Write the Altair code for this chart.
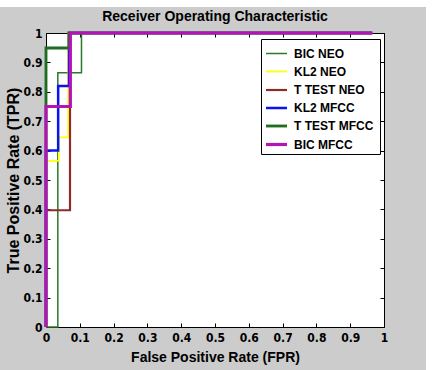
import altair as alt
import pandas as pd

# ---- data ----
series_names = ["BIC NEO", "KL2 NEO", "T TEST NEO", "KL2 MFCC", "T TEST  MFCC", "BIC MFCC"]
series_colors = ["#2a7a2a", "#ffff10", "#8e2a2a", "#0a14f0", "#1f6e1f", "#b414b4"]
series_widths = [1.5, 3.2, 1.5, 3.2, 3.2, 3.2]

bic_neo_x = [0, 0.035, 0.035, 0.105, 0.105, 0.965]
bic_neo_y = [0, 0, 0.865, 0.865, 1, 1]
kl2_neo_x = [0, 0, 0.038, 0.038, 0.066, 0.066, 0.965]
kl2_neo_y = [0, 0.565, 0.565, 0.645, 0.645, 1, 1]
ttest_neo_x = [0, 0, 0.071, 0.071, 0.965]
ttest_neo_y = [0, 0.397, 0.397, 1, 1]
kl2_mfcc_x = [0, 0, 0.036, 0.036, 0.068, 0.068, 0.965]
kl2_mfcc_y = [0, 0.6, 0.6, 0.82, 0.82, 1, 1]
ttest_mfcc_x = [0, 0, 0.068, 0.068, 0.965]
ttest_mfcc_y = [0, 0.949, 0.949, 1, 1]
bic_mfcc_x = [0, 0, 0.072, 0.072, 0.965]
bic_mfcc_y = [0, 0.75, 0.75, 1, 1]

tick_values = [0, 0.1, 0.2, 0.3, 0.4, 0.5, 0.6, 0.7, 0.8, 0.9, 1]

all_x = [bic_neo_x, kl2_neo_x, ttest_neo_x, kl2_mfcc_x, ttest_mfcc_x, bic_mfcc_x]
all_y = [bic_neo_y, kl2_neo_y, ttest_neo_y, kl2_mfcc_y, ttest_mfcc_y, bic_mfcc_y]

rows = []
for name, xs, ys in zip(series_names, all_x, all_y):
    for i, (xv, yv) in enumerate(zip(xs, ys)):
        rows.append({"series": name, "i": i, "x": xv, "y": yv})
df = pd.DataFrame(rows)

W, H = 338, 294
LABEL_FONT = "Liberation Sans Narrow, DejaVu Sans Condensed, Liberation Sans"
FONT = "Liberation Sans"

xscale = alt.Scale(domain=[0, 1], nice=False, zero=False)
yscale = alt.Scale(domain=[0, 1], nice=False, zero=False)
cscale = alt.Scale(domain=series_names, range=series_colors)
wscale = alt.Scale(domain=series_names, range=series_widths)

legend = alt.Legend(
    title=None, orient="none", legendX=215, legendY=6,
    fillColor="white", strokeColor="black", padding=3,
    labelFont=FONT, labelFontSize=12, labelFontWeight="bold", labelColor="black",
    symbolType="stroke", symbolSize=441, rowPadding=-1.5, labelOffset=5,
)

base = alt.Chart(df)

x_label_axis = alt.Axis(
    orient="bottom", values=tick_values, format="g", ticks=False, grid=False,
    domain=False, labelFont=LABEL_FONT, labelFontSize=12, labelFontWeight="bold",
    labelColor="black", labelPadding=5, title="False Positive Rate (FPR)",
    titleFont=FONT, titleFontSize=14, titleFontWeight="bold", titleColor="black",
    titlePadding=7, labelFlush=False,
)
y_label_axis = alt.Axis(
    orient="left", values=tick_values, format="g", ticks=False, grid=False,
    domain=False, labelFont=LABEL_FONT, labelFontSize=12, labelFontWeight="bold",
    labelColor="black", labelPadding=4, title="True Positive Rate (TPR)",
    titleFont=FONT, titleFontSize=16, titleFontWeight="bold", titleColor="black",
    titlePadding=1, labelFlush=False,
)

layers = []
for k, name in enumerate(series_names):
    layers.append(
        base.transform_filter(alt.datum.series == name)
        .mark_line(strokeCap="butt", strokeJoin="miter")
        .encode(
            x=alt.X("x:Q", scale=xscale, axis=x_label_axis if k == 0 else None),
            y=alt.Y("y:Q", scale=yscale, axis=y_label_axis if k == 0 else None),
            color=alt.Color("series:N", scale=cscale, legend=legend, sort=series_names),
            strokeWidth=alt.StrokeWidth("series:N", scale=wscale, legend=legend, sort=series_names),
            order="i:Q",
        )
    )


def tick_axis(orient):
    return alt.Axis(
        orient=orient, values=tick_values, offset=-4, tickSize=4, tickColor="black",
        labels=False, domain=False, grid=False, title=None,
    )


ticks_bl = base.mark_point(opacity=0).encode(
    x=alt.X("x:Q", scale=xscale, axis=tick_axis("bottom")),
    y=alt.Y("y:Q", scale=yscale, axis=tick_axis("left")),
)
ticks_tr = base.mark_point(opacity=0).encode(
    x=alt.X("x:Q", scale=xscale, axis=tick_axis("top")),
    y=alt.Y("y:Q", scale=yscale, axis=tick_axis("right")),
)

top_strip = alt.Chart(pd.DataFrame({"a": [0]})).mark_rect(color="white").encode(
    x=alt.value(-46), x2=alt.value(400), y=alt.value(-34), y2=alt.value(-26)
)

chart = (
    alt.layer(*layers, ticks_bl, ticks_tr, top_strip)
    .resolve_axis(x="independent", y="independent")
    .properties(
        width=W, height=H,
        padding={"left": 46, "top": 33, "right": 42, "bottom": 43},
        autosize=alt.AutoSizeParams(type="none"),
        background="#cccccc",
        title=alt.TitleParams(
            "Receiver Operating Characteristic", font=FONT, fontSize=14,
            fontWeight="bold", color="black", anchor="middle", offset=-36,
            baseline="alphabetic",
        ),
    )
    .configure_view(fill="white", stroke="black", strokeWidth=1)
)

chart.save("out.html", embed_options={"renderer": "svg", "actions": False})
